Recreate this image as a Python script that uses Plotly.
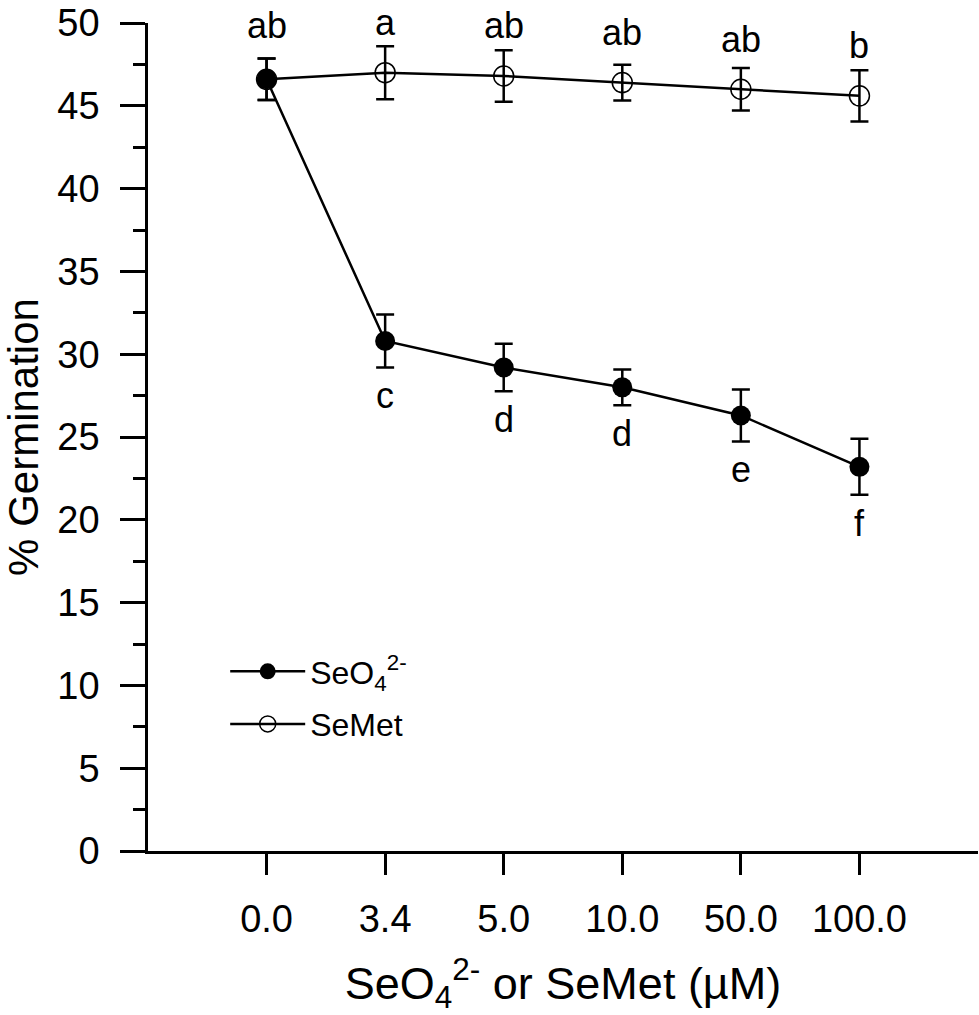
import plotly.graph_objects as go

# Germination (%) vs. Se concentration, means with error bars
conc_labels = ["0.0", "3.4", "5.0", "10.0", "50.0", "100.0"]

seo4_mean = [46.6, 30.8, 29.2, 28.0, 26.3, 23.2]
seo4_err = [1.25, 1.6, 1.43, 1.08, 1.57, 1.69]
seo4_letters = ["ab", "c", "d", "d", "e", "f"]

semet_mean = [46.6, 47.0, 46.8, 46.4, 46.0, 45.6]
semet_err = [1.25, 1.6, 1.55, 1.08, 1.28, 1.55]
semet_letters = ["", "a", "ab", "ab", "ab", "b"]

FONT = "Liberation Sans, Arial, sans-serif"

fig = go.Figure()

# open circles first so the filled control point sits on top
fig.add_trace(go.Scatter(
    x=conc_labels, y=semet_mean, name="SeMet", mode="lines+markers",
    line=dict(color="black", width=2.5),
    marker=dict(symbol="circle-open", size=20, color="black", line=dict(width=1.5)),
    error_y=dict(type="data", array=semet_err, color="black", thickness=2.5, width=9),
    legendrank=2, legendgroup="b",
))
fig.add_trace(go.Scatter(
    x=conc_labels, y=seo4_mean, name="SeO<sub>4</sub><sup>2-</sup>", mode="lines+markers",
    line=dict(color="black", width=2.5),
    marker=dict(symbol="circle", size=20, color="black"),
    error_y=dict(type="data", array=seo4_err, color="black", thickness=2.5, width=9),
    legendrank=1, legendgroup="a",
))

# significance letters: above the top curve (fixed offset from the mean),
# below the bottom curve (under the error bar)
lf = dict(size=36, color="black", family=FONT)
for i in range(len(conc_labels)):
    if i == 0:
        fig.add_annotation(x=i, y=seo4_mean[i], text=seo4_letters[i],
                           showarrow=False, yanchor="middle", yshift=54, font=lf)
        continue
    fig.add_annotation(x=i, y=semet_mean[i], text=semet_letters[i],
                       showarrow=False, yanchor="middle", yshift=50, font=lf)
    fig.add_annotation(x=i, y=seo4_mean[i] - seo4_err[i], text=seo4_letters[i],
                       showarrow=False, yanchor="top", yshift=-6, font=lf)

fig.update_layout(
    width=979, height=1015,
    margin=dict(l=148, r=1, t=23, b=164),
    paper_bgcolor="white", plot_bgcolor="white",
    font=dict(family=FONT, size=36, color="black"),
    showlegend=True,
    legend=dict(x=0.093, y=0.25, xanchor="left", yanchor="top",
                bgcolor="rgba(0,0,0,0)", itemwidth=75, tracegroupgap=8,
                traceorder="grouped", font=dict(size=32)),
)
fig.update_xaxes(
    type="category", range=[-1, 6], showgrid=False, zeroline=False,
    showline=True, linecolor="black", linewidth=2.5,
    ticks="outside", ticklen=21, tickwidth=2.5, tickcolor="black",
    ticklabelstandoff=12, tickfont=dict(size=38),
    title=dict(text="SeO<sub>4</sub><sup>2-</sup> or SeMet (µM)", standoff=37,
               font=dict(size=45)),
)
fig.update_yaxes(
    range=[0, 50], showgrid=False, zeroline=False,
    showline=True, linecolor="black", linewidth=2.5,
    tickmode="linear", tick0=0, dtick=5,
    ticks="outside", ticklen=25, tickwidth=2.5, tickcolor="black",
    ticklabelstandoff=13, tickfont=dict(size=38), ticklabeloverflow="allow",
    minor=dict(dtick=2.5, ticks="outside", ticklen=12, tickwidth=2.5, tickcolor="black"),
    title=dict(text="% Germination", standoff=20, font=dict(size=42)),
)

# drop the default page margin so the figure fills the window exactly
fig.write_html("out.html", config={"displayModeBar": False},
               post_script="document.body.style.margin='0';")
